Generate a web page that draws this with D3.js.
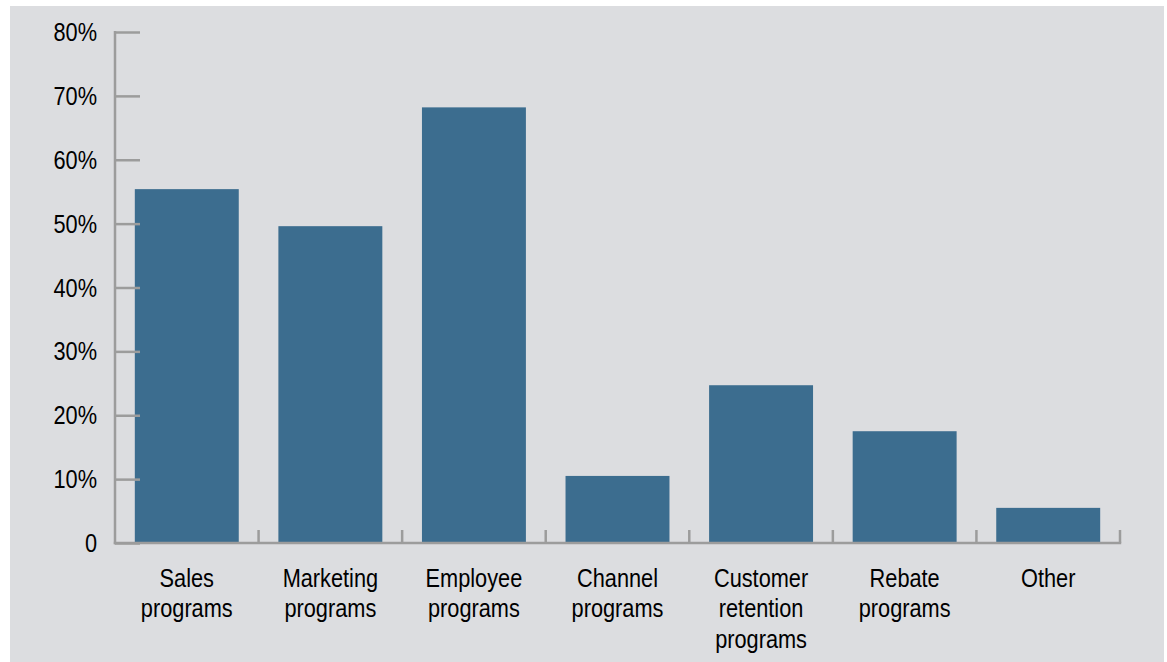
<!DOCTYPE html>
<html>
<head>
<meta charset="utf-8">
<script src="https://cdn.jsdelivr.net/npm/d3@7"></script>
<style>
html,body{margin:0;padding:0;background:#fff;}
svg{display:block;}
text{font-family:"Liberation Sans",Arial,sans-serif;fill:#000;}
</style>
</head>
<body>
<svg id="chart" width="1167" height="662"></svg>
<script>
const categories = [
  ["Sales","programs"],
  ["Marketing","programs"],
  ["Employee","programs"],
  ["Channel","programs"],
  ["Customer","retention","programs"],
  ["Rebate","programs"],
  ["Other"]
];
const values = [55.4, 49.6, 68.2, 10.5, 24.7, 17.5, 5.5];
const yTicks = [0, 10, 20, 30, 40, 50, 60, 70, 80];
const yTickLabels = ["0","10%","20%","30%","40%","50%","60%","70%","80%"];

const svg = d3.select("#chart");
svg.append("rect").attr("x",10).attr("y",6).attr("width",1154).attr("height",656).attr("fill","#dcdde0");

const x0 = 115, x1 = 1120, y0 = 543, y1 = 32;
const ids = categories.map((c,i)=>i);
const x = d3.scaleBand().domain(ids).range([x0,x1]).paddingInner(0.276).paddingOuter(0.138);
const step = x.step();
const y = d3.scaleLinear().domain([0,80]).range([y0,y1]);

const axisColor = "#9c9c9c";
const sx = 0.87, fs = 25;

// bars
svg.append("g").selectAll("rect").data(values).join("rect")
  .attr("x",(d,i)=>x(i)).attr("width",x.bandwidth())
  .attr("y",d=>y(d)).attr("height",d=>y(0)-y(d))
  .attr("fill","#3c6d8f");

// y axis
const yAxis = d3.axisRight(y).tickValues(yTicks).tickSize(25).tickFormat("");
const gy = svg.append("g").attr("transform",`translate(${x0},0)`).call(yAxis);
gy.select(".domain").remove();
gy.selectAll(".tick line").attr("stroke",axisColor).attr("stroke-width",2.5);
svg.append("line").attr("x1",x0).attr("x2",x0).attr("y1",y1-1).attr("y2",y0+1.2)
  .attr("stroke",axisColor).attr("stroke-width",2.5);

// y labels
const yl = svg.append("g").selectAll("g").data(yTicks).join("g")
  .attr("transform",(d)=>`translate(97,${y(d)+9}) scale(${sx},1)`);
yl.append("text").attr("text-anchor","end").attr("font-size",fs).text((d,i)=>yTickLabels[i]);

// x axis
svg.append("line").attr("x1",x0-1.2).attr("x2",x1+1.2).attr("y1",y0).attr("y2",y0)
  .attr("stroke",axisColor).attr("stroke-width",2.5);
svg.append("g").selectAll("line").data(ids).join("line")
  .attr("x1",i=>x(i)+x.bandwidth()+step*0.138).attr("x2",i=>x(i)+x.bandwidth()+step*0.138)
  .attr("y1",y0).attr("y2",y0-13)
  .attr("stroke",axisColor).attr("stroke-width",2.5);

// x labels
const xl = svg.append("g").selectAll("g").data(categories).join("g")
  .attr("transform",(d,i)=>`translate(${x(i)+x.bandwidth()/2},586.5) scale(${sx},1)`);
xl.each(function(lines){
  const g = d3.select(this);
  lines.forEach((t,j)=>{
    g.append("text").attr("text-anchor","middle").attr("font-size",fs).attr("y",j*30.7).text(t);
  });
});
</script>
</body>
</html>
